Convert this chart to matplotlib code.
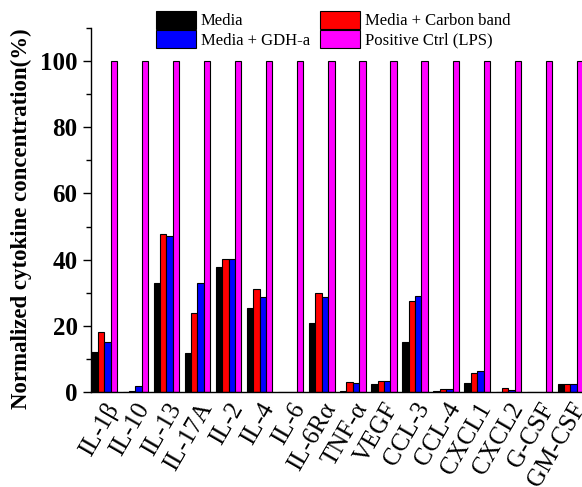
import numpy as np
from matplotlib import pyplot as plt
from matplotlib.ticker import MultipleLocator

categories = ["IL-1\u03b2", "IL-10", "IL-13", "IL-17A", "IL-2", "IL-4", "IL-6",
              "IL-6R\u03b1", "TNF-\u03b1", "VEGF", "CCL-3", "CCL-4", "CXCL1",
              "CXCL2", "G-CSF", "GM-CSF"]

media = [12.2, 0.0, 32.8, 11.7, 37.9, 25.3, 0.0, 20.9, 0.4, 2.3, 15.2, 0.4, 2.8, 0.0, 0.0, 2.3]
media_carbon = [18.0, 0.4, 47.9, 23.8, 40.1, 31.1, 0.0, 30.0, 2.9, 3.3, 27.5, 0.8, 5.8, 1.1, 0.0, 2.3]
media_gdh = [15.2, 1.9, 47.2, 33.0, 40.1, 28.6, 0.0, 28.8, 2.6, 3.3, 29.0, 0.8, 6.3, 0.6, 0.0, 2.3]
positive_lps = [100] * 16

series = [("Media", media, "#000000"),
          ("Media + Carbon band", media_carbon, "#ff0000"),
          ("Media + GDH-a", media_gdh, "#0000ff"),
          ("Positive Ctrl (LPS)", positive_lps, "#ff00ff")]

plt.rcParams['font.family'] = ['Liberation Serif', 'DejaVu Serif']

fig = plt.figure(figsize=(5.82, 4.87), dpi=100)
ax = fig.add_axes([0.156, 0.195, 0.844, 0.7475])

x = np.arange(len(categories))
w = 0.205
bars = []
for k, (name, vals, col) in enumerate(series):
    b = ax.bar(x + (k - 1.5) * w, vals, width=w, color=col, edgecolor="black",
               linewidth=0.8, label=name)
    bars.append(b)

ax.set_xlim(-0.43, 15.37)
ax.set_ylim(0, 110)
ax.yaxis.set_major_locator(MultipleLocator(20))
ax.yaxis.set_minor_locator(MultipleLocator(10))
ax.set_yticks([0, 20, 40, 60, 80, 100])
ax.set_yticklabels(["0", "20", "40", "60", "80", "100"], fontsize=18, fontweight="bold")
ax.tick_params(axis="y", which="major", direction="out", length=6, width=1)
ax.tick_params(axis="y", which="minor", direction="out", length=3.5, width=1)
ax.set_xticks(x)
ax.set_xticklabels(categories, rotation=60, ha="right", rotation_mode="anchor", fontsize=18)
ax.tick_params(axis="x", length=0, pad=5)

for s in ["top", "right"]:
    ax.spines[s].set_visible(False)
ax.spines["left"].set_linewidth(1.0)
ax.spines["bottom"].set_linewidth(1.0)

ax.set_ylabel("Normalized cytokine concentration(%)", fontsize=16.5, fontweight="bold")
ax.yaxis.set_label_coords(-0.12, 0.475)

# row-wise legend order: Media, Carbon band / GDH-a, LPS
order = [0, 2, 1, 3]
fig.legend([bars[i] for i in order], [series[i][0] for i in order],
           loc="upper left", bbox_to_anchor=(0.268, 0.978), ncol=2, frameon=False,
           fontsize=12, handlelength=2.4, handleheight=1.3, labelspacing=0.05,
           handletextpad=0.3, columnspacing=0.6, borderpad=0, borderaxespad=0)

fig.savefig("out.png", dpi=100)
